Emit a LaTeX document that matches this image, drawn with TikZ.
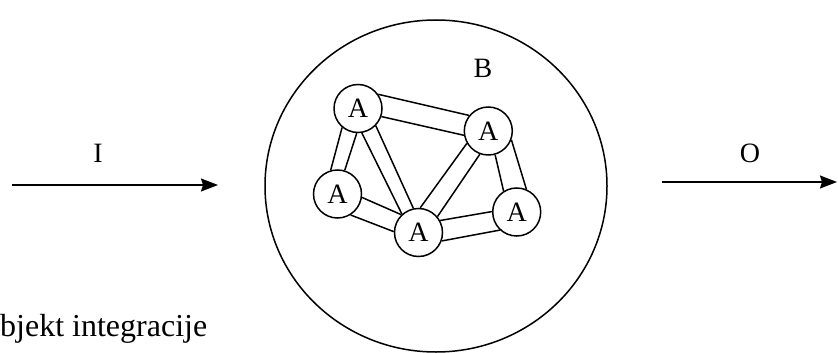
\documentclass[tikz,border=0pt]{standalone}
\usepackage{fontspec}
\setmainfont{Liberation Serif}
\usetikzlibrary{arrows.meta,shapes.geometric}
\begin{document}
\begin{tikzpicture}[x=1pt,y=-1pt,
  lw/.style={line width=1.5pt},
  anode/.style={circle,draw,lw,minimum size=48pt,inner sep=0pt,font=\fontsize{28}{32}\selectfont},
  lbl/.style={inner sep=0pt,font=\fontsize{28}{32}\selectfont},
  edge/.style={lw},
  arr/.style={lw,-{Stealth[length=17pt,width=13pt,inset=2pt]}}]
\useasboundingbox (0,0) rectangle (838,353);
% big circle
\node[draw,lw,ellipse,minimum width=342pt,minimum height=332pt,inner sep=0pt] (big) at (436,186) {};
\node[lbl] (B) at (483,68) {B};
% A nodes
\node[anode] (a1) at (358,108.5) {A};
\node[anode] (a2) at (488.3,131) {A};
\node[anode] (a3) at (337.5,194) {A};
\node[anode] (a4) at (418.5,232.5) {A};
\node[anode] (a5) at (516.7,212) {A};
% edges (pairs of lines)
\draw[edge] (a1.35) -- (a2.141);
\draw[edge] (a1.-19) -- (a2.190);
\draw[edge] (a1.-130) -- (a3.106);
\draw[edge] (a1.-93) -- (a3.73);
\draw[edge] (a1.-81) -- (a4.132);
\draw[edge] (a1.-44) -- (a4.102);
\draw[edge] (a2.210) -- (a4.86);
\draw[edge] (a2.250) -- (a4.40);
\draw[edge] (a2.-74) -- (a5.122);
\draw[edge] (a2.-21) -- (a5.67);
\draw[edge] (a3.-8) -- (a4.134);
\draw[edge] (a3.-58) -- (a4.178);
\draw[edge] (a4.29) -- (a5.179);
\draw[edge] (a4.-20) -- (a5.227);
% input arrow
\coordinate (in0) at (12,185);
\coordinate (in1) at (218,185);
\draw[arr] (in0) -- (in1);
\node[lbl] (I) at (98,153.5) {I};
% output arrow
\coordinate (out0) at (662,182);
\coordinate (out1) at (837,182);
\draw[arr] (out0) -- (out1);
\node[lbl] (O) at (750,153) {O};
% bottom text
\node[anchor=base west,inner sep=0pt,font=\fontsize{32}{36}\selectfont] (txt) at (0,336) {bjekt integracije};
\end{tikzpicture}
\end{document}
